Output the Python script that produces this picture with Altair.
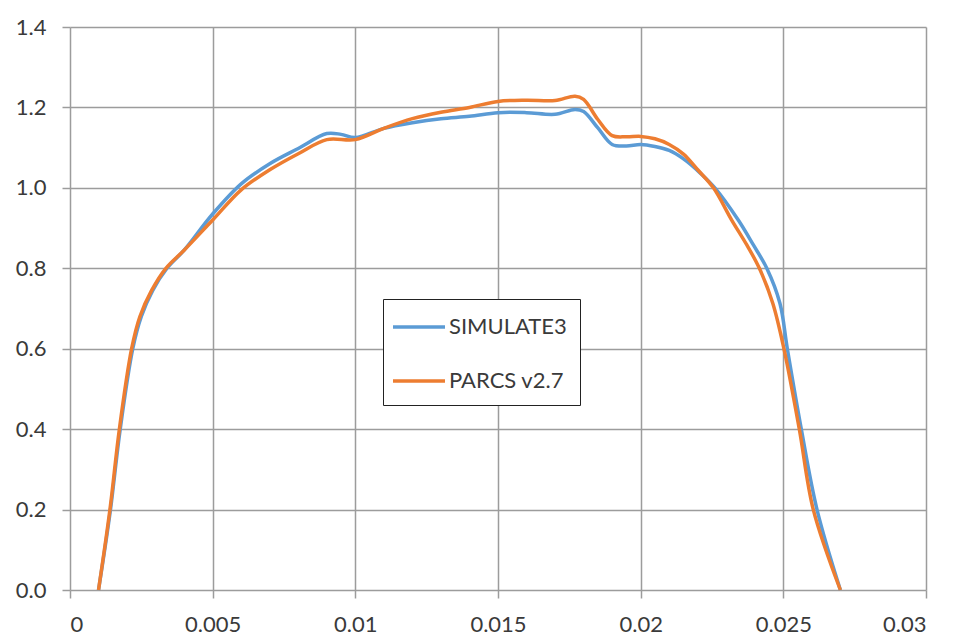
import altair as alt
import pandas as pd

series_names = ["SIMULATE3", "PARCS v2.7"]
colors = ["#5B9BD5", "#ED7D31"]

sim_x = [0.001, 0.0014, 0.00176, 0.0022, 0.0025, 0.0029, 0.0034, 0.004, 0.005, 0.006,
         0.007, 0.008, 0.009, 0.0095, 0.01, 0.011, 0.012, 0.013, 0.014, 0.015,
         0.016, 0.017, 0.0177, 0.018, 0.0185, 0.019, 0.0195, 0.02, 0.0205, 0.021,
         0.0215, 0.0221, 0.0226, 0.02342, 0.02395, 0.02442, 0.02488,
         0.02514, 0.02563, 0.02618, 0.027]
sim_y = [0.0, 0.19, 0.4, 0.6, 0.68, 0.745, 0.8, 0.845, 0.935, 1.01,
         1.06, 1.098, 1.135, 1.133, 1.125, 1.148, 1.162, 1.172, 1.178, 1.187,
         1.187, 1.183, 1.195, 1.19, 1.149, 1.108, 1.104, 1.108, 1.103, 1.093,
         1.072, 1.036, 1.0, 0.92, 0.858, 0.8, 0.713,
         0.6, 0.4, 0.2, 0.0]

parcs_x = [0.001, 0.0014, 0.00173, 0.00216, 0.00245, 0.00286, 0.00336, 0.004, 0.005, 0.006,
           0.007, 0.008, 0.009, 0.01, 0.011, 0.012, 0.013, 0.014, 0.015,
           0.016, 0.017, 0.0177, 0.018, 0.0185, 0.019, 0.0195, 0.02, 0.0205, 0.021,
           0.0215, 0.022, 0.02255, 0.02319, 0.02372, 0.02416, 0.02463,
           0.02502, 0.02556, 0.02605, 0.027]
parcs_y = [0.0, 0.2, 0.4, 0.6, 0.68, 0.745, 0.8, 0.845, 0.92, 0.995,
           1.045, 1.085, 1.12, 1.12, 1.148, 1.172, 1.188, 1.2, 1.215,
           1.218, 1.217, 1.228, 1.22, 1.17, 1.13, 1.127, 1.128, 1.122, 1.108,
           1.084, 1.045, 1.0, 0.92, 0.858, 0.8, 0.713,
           0.6, 0.4, 0.2, 0.0]

x_ticks = [0, 0.005, 0.01, 0.015, 0.02, 0.025, 0.03]
y_ticks = [0.0, 0.2, 0.4, 0.6, 0.8, 1.0, 1.2, 1.4]

df_sim = pd.DataFrame({"x": sim_x, "y": sim_y, "series": series_names[0]})
df_parcs = pd.DataFrame({"x": parcs_x, "y": parcs_y, "series": series_names[1]})

FONT = "Lato"
GRID = "#9c9c9c"
TEXT = "#3a3a3a"

x_enc = alt.X("x:Q", scale=alt.Scale(domain=[0, 0.03], nice=False, zero=False),
              axis=alt.Axis(values=x_ticks, format="~g", title=None, grid=True,
                            domain=False, tickSize=8, labelPadding=16))
y_enc = alt.Y("y:Q", scale=alt.Scale(domain=[0, 1.4], nice=False),
              axis=alt.Axis(values=y_ticks, format=".1f", title=None, grid=True,
                            domain=False, tickSize=8, labelPadding=16))
color_enc = alt.Color("series:N",
                      scale=alt.Scale(domain=series_names, range=colors),
                      legend=alt.Legend(title=None, orient="none", legendX=313, legendY=272,
                                        symbolType="M-2,0H2", symbolSize=676,
                                        symbolOffset=8,
                                        symbolStrokeWidth=3.5, labelFontSize=22,
                                        labelFont=FONT, labelColor=TEXT,
                                        strokeColor="#222222", padding=13,
                                        rowPadding=28, labelOffset=15, fillColor="white"))

base = alt.Chart(df_sim).mark_line(strokeWidth=3.5, interpolate="catmull-rom").encode(
    x=x_enc, y=y_enc, color=color_enc)
top = alt.Chart(df_parcs).mark_line(strokeWidth=3.5, interpolate="catmull-rom").encode(
    x=x_enc, y=y_enc, color=color_enc)

chart = alt.layer(base, top).properties(
    width=856, height=563,
    autosize=alt.AutoSizeParams(type="none"),
    padding={"left": 62, "top": 19, "right": 20, "bottom": 46},
).configure_axis(
    gridColor=GRID, gridWidth=1.5, tickColor=GRID, tickWidth=1.5,
    labelFont=FONT, labelFontSize=22, labelColor=TEXT,
).configure_view(stroke=None)

chart.save("out.html", embed_options={"renderer": "svg", "actions": False})
